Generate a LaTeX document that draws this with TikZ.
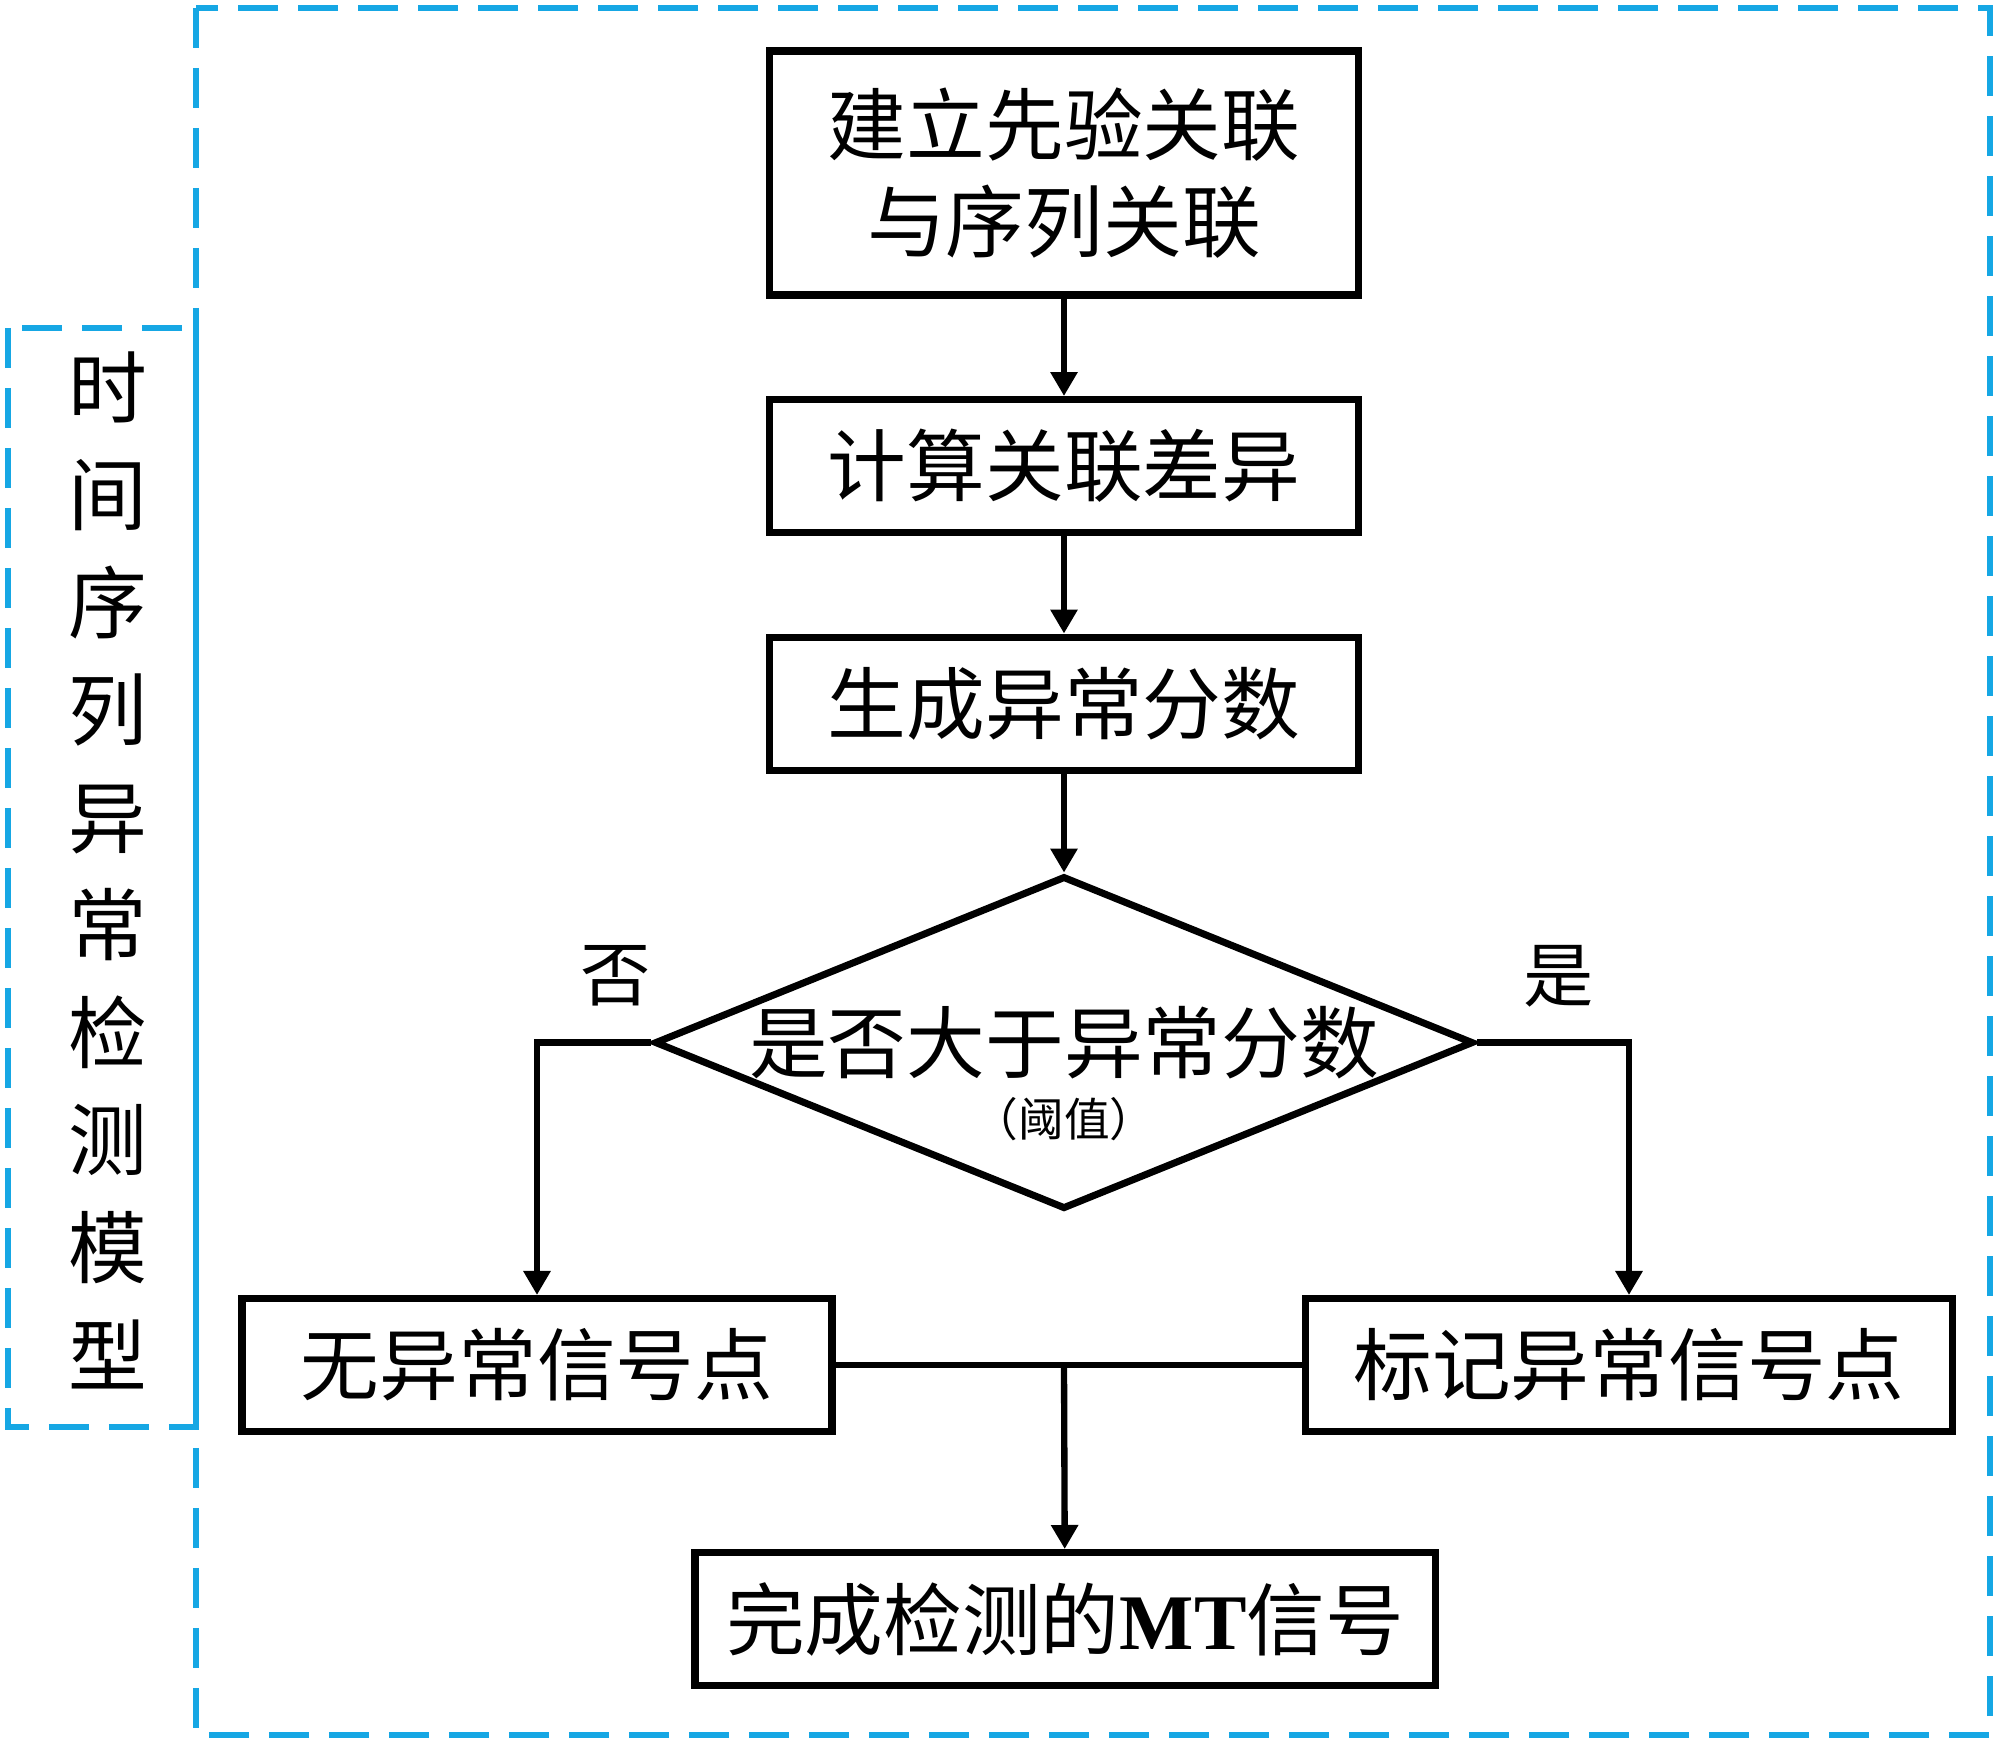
\documentclass[tikz,border=0pt]{standalone}
\usepackage{fontspec}
\setmainfont{Noto Sans CJK SC}
\newfontfamily\latinserif{Liberation Serif}
\usetikzlibrary{shapes.geometric, arrows.meta, positioning, calc}
\definecolor{frameblue}{RGB}{22,167,228}
\tikzset{
  flow box/.style={
    rectangle, draw=black, line width=2pt,
    minimum width=5.89cm, minimum height=1.33cm,
    text centered, font=\fontsize{22.4}{27.8}\selectfont,
    inner sep=2pt
  },
  flow decision/.style={
    diamond, draw=black, line width=2pt,
    minimum width=8.19cm, minimum height=3.33cm,
    inner sep=0pt
  },
  flow arrow/.style={
    -{Triangle[length=0.24cm,width=0.26cm]}, line width=1.8pt
  },
  flow line/.style={
    line width=1.8pt
  },
  branch label/.style={
    font=\fontsize{20}{24}\selectfont, inner sep=0pt
  },
  model frame/.style={
    draw=frameblue, line width=1.7pt, dash pattern=on 0.4cm off 0.2cm
  }
}

\begin{document}
\begin{tikzpicture}[align=center]
  \useasboundingbox (0,0) rectangle (20,-17.44);

  % dashed frames
  \draw [model frame] (1.96,-0.08) rectangle (19.90,-17.35);
  \draw [model frame] (0.08,-3.28) rectangle (1.96,-14.27);
  \node (modelname) [font=\fontsize{22.4}{30.6}\selectfont] at (1.08,-8.70)
    {时\\间\\序\\列\\异\\常\\检\\测\\模\\型};

  \node (box1) [flow box, minimum height=2.44cm] at (10.64,-1.73) {建立先验关联\\与序列关联};
  \node (box2) [flow box, below=0.975cm of box1] {计算关联差异};
  \node (box3) [flow box, below=0.975cm of box2] {生成异常分数};
  \node (dia) [flow decision, below=0.99cm of box3] {};
  \node (diatext) [font=\fontsize{22.4}{27}\selectfont] at (dia.center) {是否大于异常分数};
  \node (diasub) [font=\fontsize{13}{16}\selectfont] at ($(dia.center)+(0,-0.77)$) {（阈值）};
  \node (nobox) [flow box, minimum width=5.90cm] at (5.37,-13.65) {无异常信号点};
  \node (markbox) [flow box, minimum width=6.47cm] at (16.29,-13.65) {标记异常信号点};
  \node (donebox) [flow box, minimum width=7.40cm] at (10.65,-16.19) {完成检测的{\latinserif\bfseries MT}信号};

  \node (nolabel) [branch label] at (6.16,-9.76) {否};
  \node (yeslabel) [branch label] at (15.59,-9.76) {是};

  \draw [flow arrow] (box1) -- (box2);
  \draw [flow arrow] (box2) -- (box3);
  \draw [flow arrow] (box3) -- (dia);
  \draw [flow arrow] (dia.west) -| (nobox);
  \draw [flow arrow] (dia.east) -| (markbox);
  \draw [flow line] (nobox.east) -- (markbox.west);
  \coordinate (merge) at (dia.south |- nobox.east);
  \draw [flow arrow] (merge) -- (donebox);
\end{tikzpicture}
\end{document}
